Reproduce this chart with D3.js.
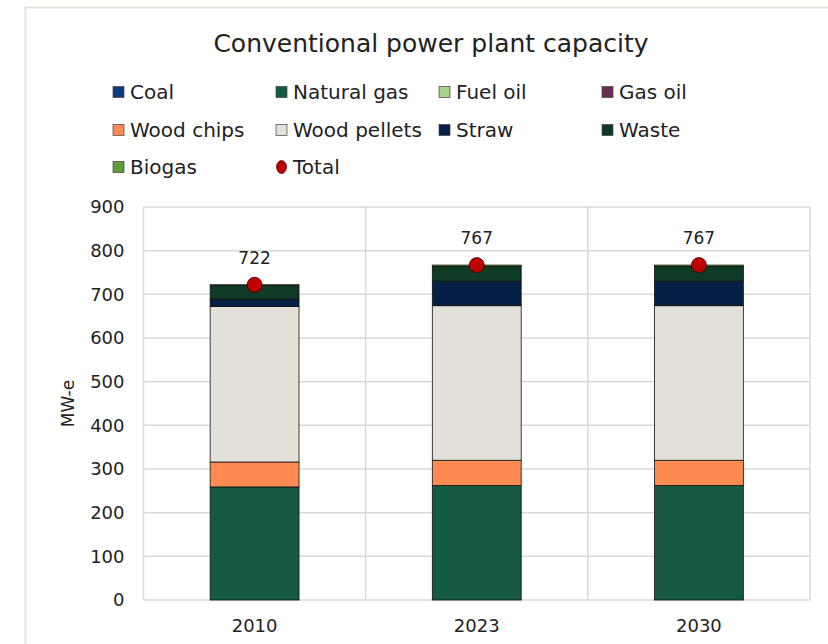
<!DOCTYPE html>
<html lang="en">
<head>
    <meta charset="UTF-8">
    <title>Conventional power plant capacity</title>
    <style>
        body {
            margin: 0;
            background: #ffffff;
        }

        #chart text {
            font-family: "DejaVu Sans", sans-serif;
            fill: #222222;
        }
    </style>
    <script src="https://d3js.org/d3.v7.min.js"></script>
</head>
<body>
    <div id="chart"></div>

    <script>
        // data (MW-e)
        const years = ["2010", "2023", "2030"];
        const coal = [0, 0, 0];
        const naturalGas = [259, 262, 262];
        const fuelOil = [0, 0, 0];
        const gasOil = [0, 0, 0];
        const woodChips = [57, 58, 58];
        const woodPellets = [356, 354, 354];
        const straw = [17, 56, 56];
        const waste = [31, 34, 34];
        const biogas = [2, 3, 3];
        const total = [722, 767, 767];

        const seriesNames = ["Coal", "Natural gas", "Fuel oil", "Gas oil", "Wood chips",
            "Wood pellets", "Straw", "Waste", "Biogas"];
        const seriesValues = [coal, naturalGas, fuelOil, gasOil, woodChips, woodPellets, straw, waste, biogas];
        const seriesColors = ["#0b3a7e", "#155a41", "#a9d18e", "#6b2d4f", "#ff8a52",
            "#e2e0d8", "#061f47", "#0f3a26", "#5e9c3c"];
        const yTicks = [0, 100, 200, 300, 400, 500, 600, 700, 800, 900];

        const width = 828, height = 644;
        const plot = { left: 143.5, right: 810, top: 207, bottom: 600 };

        const svg = d3.select("#chart")
            .append("svg")
            .attr("width", width)
            .attr("height", height);

        // chart frame
        svg.append("rect")
            .attr("x", 25.5)
            .attr("y", 7.5)
            .attr("width", 820)
            .attr("height", 660)
            .attr("fill", "#ffffff")
            .attr("stroke", "#e3e3dc")
            .attr("stroke-width", 2);

        // title
        svg.append("text")
            .attr("x", 431)
            .attr("y", 52)
            .attr("text-anchor", "middle")
            .style("font-size", "25px")
            .text("Conventional power plant capacity");

        const x = d3.scaleBand()
            .domain(years)
            .range([plot.left, plot.right])
            .paddingInner(0)
            .paddingOuter(0);

        const y = d3.scaleLinear()
            .domain([0, 900])
            .range([plot.bottom, plot.top]);

        // horizontal grid
        svg.append("g")
            .selectAll("line")
            .data(yTicks)
            .join("line")
            .attr("x1", plot.left)
            .attr("x2", plot.right)
            .attr("y1", d => y(d))
            .attr("y2", d => y(d))
            .attr("stroke", "#d9d9d9")
            .attr("stroke-width", 1.5);

        // vertical grid between categories
        const bounds = years.map(d => x(d)).concat([plot.right]);
        svg.append("g")
            .selectAll("line")
            .data(bounds)
            .join("line")
            .attr("x1", d => d)
            .attr("x2", d => d)
            .attr("y1", plot.top)
            .attr("y2", plot.bottom)
            .attr("stroke", "#d9d9d9")
            .attr("stroke-width", 1.5);

        // y axis labels
        const yAxis = svg.append("g")
            .attr("transform", `translate(${plot.left - 19},0)`)
            .call(d3.axisLeft(y).tickValues(yTicks).tickSize(0).tickPadding(0));
        yAxis.select(".domain").remove();
        yAxis.selectAll("text").style("font-size", "18px");

        svg.append("text")
            .attr("transform", `translate(74,${(plot.top + plot.bottom) / 2}) rotate(-90)`)
            .attr("text-anchor", "middle")
            .style("font-size", "17px")
            .text("MW-e");

        // x axis labels
        const xAxis = svg.append("g")
            .attr("transform", `translate(0,${plot.bottom + 19})`)
            .call(d3.axisBottom(x).tickSize(0).tickPadding(0));
        xAxis.select(".domain").remove();
        xAxis.selectAll("text").style("font-size", "18px");

        // stacked bars
        const rows = years.map((yr, i) => {
            const r = { year: yr };
            seriesNames.forEach((s, k) => r[s] = seriesValues[k][i]);
            return r;
        });
        const stacked = d3.stack().keys(seriesNames)(rows);
        const barW = x.bandwidth() * 0.4;

        svg.append("g")
            .selectAll("g")
            .data(stacked)
            .join("g")
            .attr("fill", (d, k) => seriesColors[k])
            .selectAll("rect")
            .data(d => d.filter(p => p[1] - p[0] > 0))
            .join("rect")
            .attr("x", d => x(d.data.year) + (x.bandwidth() - barW) / 2)
            .attr("y", d => y(d[1]))
            .attr("width", barW)
            .attr("height", d => y(d[0]) - y(d[1]))
            .attr("stroke", "#111111")
            .attr("stroke-width", 0.8);

        // total markers and labels
        svg.append("g")
            .selectAll("circle")
            .data(total)
            .join("circle")
            .attr("cx", (d, i) => x(years[i]) + x.bandwidth() / 2)
            .attr("cy", d => y(d))
            .attr("r", 7.5)
            .attr("fill", "#c00000")
            .attr("stroke", "#3a0000")
            .attr("stroke-width", 0.8);

        svg.append("g")
            .selectAll("text")
            .data(total)
            .join("text")
            .attr("x", (d, i) => x(years[i]) + x.bandwidth() / 2)
            .attr("y", d => y(d) - 21)
            .attr("text-anchor", "middle")
            .style("font-size", "17px")
            .text(d => d);

        // legend
        const legendItems = seriesNames.map((s, k) => ({ name: s, color: seriesColors[k], type: "rect" }))
            .concat([{ name: "Total", color: "#c00000", type: "dot" }]);
        const colX = [113, 276, 439, 602];
        const rowY = [92, 130, 167];

        const legend = svg.append("g")
            .selectAll("g")
            .data(legendItems)
            .join("g")
            .attr("transform", (d, i) => `translate(${colX[i % 4]},${rowY[Math.floor(i / 4)]})`);

        legend.filter(d => d.type === "rect")
            .append("rect")
            .attr("x", 0)
            .attr("y", -5.5)
            .attr("width", 11)
            .attr("height", 11)
            .attr("fill", d => d.color)
            .attr("stroke", "#444444")
            .attr("stroke-width", 0.7);

        legend.filter(d => d.type === "dot")
            .append("ellipse")
            .attr("cx", 5.5)
            .attr("cy", 0)
            .attr("rx", 5)
            .attr("ry", 6.5)
            .attr("fill", d => d.color)
            .attr("stroke", "#3a0000")
            .attr("stroke-width", 0.7);

        legend.append("text")
            .attr("x", 17)
            .attr("y", 0)
            .attr("dy", "0.35em")
            .style("font-size", "20px")
            .text(d => d.name);
    </script>
</body>
</html>
